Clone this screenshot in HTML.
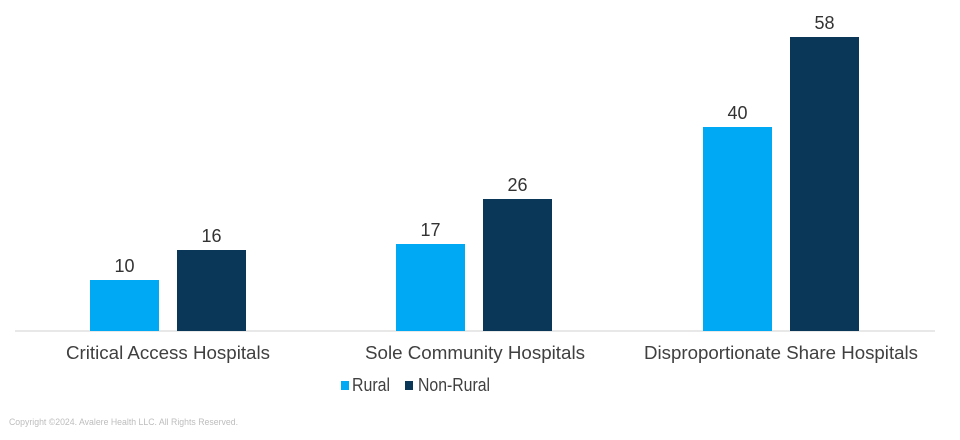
<!DOCTYPE html>
<html><head><meta charset="utf-8"><style>
body{margin:0;background:#fff;}
svg{display:block;font-family:"Liberation Sans",Arial,sans-serif;}
</style></head><body>
<svg width="960" height="440" viewBox="0 0 960 440">
<line x1="15" y1="331" x2="935" y2="331" stroke="#d0d0d0" stroke-width="1"/>
<g fill="#00a9f4">
<rect x="90" y="280" width="69" height="51"/>
<rect x="396" y="244" width="69" height="87"/>
<rect x="703" y="127" width="69" height="204"/>
</g>
<g fill="#0a3758">
<rect x="177" y="250" width="69" height="81"/>
<rect x="483" y="199" width="69" height="132"/>
<rect x="790" y="37" width="69" height="294"/>
</g>
<g font-size="18" fill="#333" text-anchor="middle">
<text x="124.5" y="272">10</text>
<text x="211.5" y="242">16</text>
<text x="430.5" y="236">17</text>
<text x="517.5" y="191">26</text>
<text x="737.5" y="119">40</text>
<text x="824.5" y="29">58</text>
</g>
<g font-size="18" fill="#404040">
<text x="66" y="359" textLength="204" lengthAdjust="spacingAndGlyphs">Critical Access Hospitals</text>
<text x="365" y="359" textLength="220" lengthAdjust="spacingAndGlyphs">Sole Community Hospitals</text>
<text x="644" y="359" textLength="274" lengthAdjust="spacingAndGlyphs">Disproportionate Share Hospitals</text>
</g>
<rect x="341" y="381" width="8" height="9" fill="#00a9f4"/>
<text x="352" y="391" font-size="18" fill="#404040" textLength="38" lengthAdjust="spacingAndGlyphs">Rural</text>
<rect x="405" y="381" width="8" height="9" fill="#0a3758"/>
<text x="418" y="391" font-size="18" fill="#404040" textLength="72" lengthAdjust="spacingAndGlyphs">Non-Rural</text>
<text x="9" y="425" font-size="9" fill="#bdbdbd" textLength="229" lengthAdjust="spacingAndGlyphs">Copyright ©2024. Avalere Health LLC. All Rights Reserved.</text>
</svg>
</body></html>
